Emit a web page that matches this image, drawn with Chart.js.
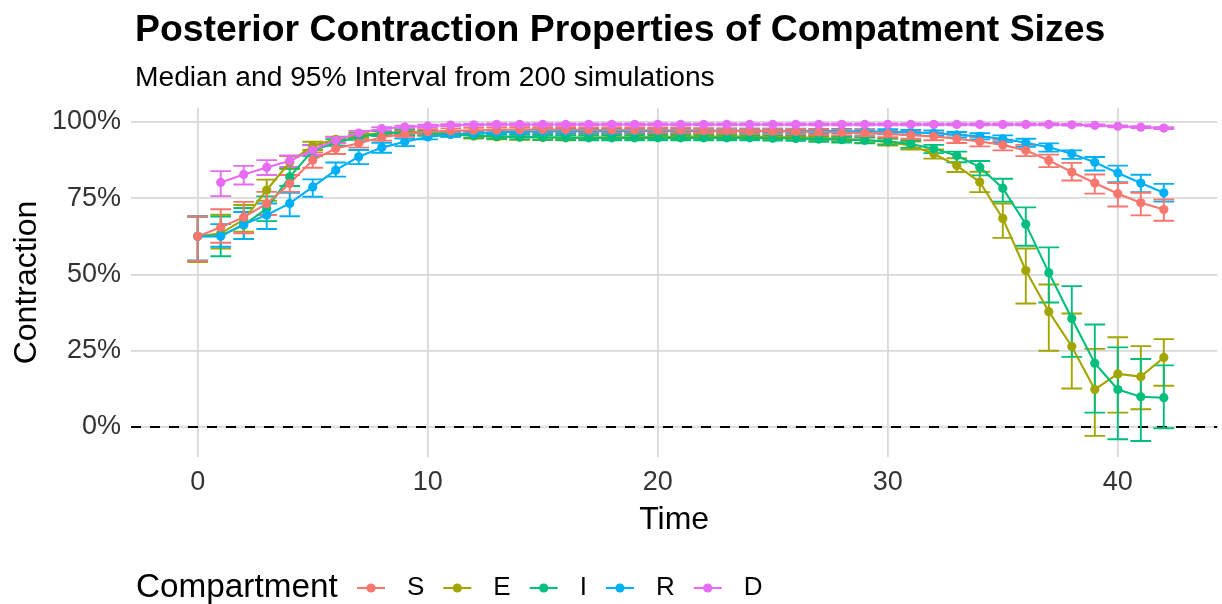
<!DOCTYPE html>
<html>
<head>
<meta charset="utf-8">
<script src="https://cdn.jsdelivr.net/npm/chart.js@4/dist/chart.umd.min.js"></script>
<style>
  html, body { margin: 0; padding: 0; background: #fff; }
</style>
</head>
<body>
<canvas id="chart" width="1222" height="604"></canvas>
<script>
// DATA
const times = [0,1,2,3,4,5,6,7,8,9,10,11,12,13,14,15,16,17,18,19,20,21,22,23,24,25,26,27,28,29,30,31,32,33,34,35,36,37,38,39,40,41,42];

const sMed = [62.5,65.5,68.8,73.2,79.8,87.5,91.3,93.0,95.0,96.1,96.8,97.1,97.3,97.4,97.5,97.5,97.5,97.4,97.4,97.4,97.3,97.3,97.2,97.1,97.0,97.0,96.9,96.7,96.6,96.4,96.1,95.7,95.3,94.5,93.6,92.5,90.7,87.4,83.6,80.0,76.5,73.5,71.3];
const sLo  = [54.5,60.4,63.5,69.5,77.1,85.0,89.5,91.6,93.9,95.2,96.0,96.3,96.5,96.6,96.7,96.7,96.7,96.6,96.6,96.6,96.5,96.5,96.4,96.3,96.2,96.1,96.0,95.8,95.6,95.4,95.0,94.5,94.0,93.1,92.0,90.7,88.8,85.2,80.8,76.5,72.3,69.4,67.6];
const sHi  = [69.0,71.4,73.8,77.1,82.6,90.0,93.1,94.4,96.1,97.0,97.6,97.9,98.1,98.2,98.3,98.3,98.3,98.2,98.2,98.2,98.1,98.1,98.0,97.9,97.8,97.8,97.7,97.6,97.5,97.4,97.1,96.8,96.5,95.8,95.1,94.2,92.5,89.3,86.6,82.8,80.0,76.8,74.6];

const eMed = [62.5,63.5,68.0,77.7,86.8,92.2,94.3,95.7,96.4,96.7,96.5,96.0,95.4,95.1,95.0,94.9,94.8,94.9,95.0,95.0,95.1,95.2,95.2,95.2,95.2,95.1,95.0,94.8,94.5,94.1,93.4,92.3,89.6,85.7,80.3,68.4,51.3,37.8,26.4,12.3,17.4,16.5,22.8];
const eLo  = [54.1,58.5,64.0,74.2,84.6,90.8,93.3,94.9,95.7,96.0,95.8,95.2,94.6,94.3,94.2,94.1,94.0,94.1,94.2,94.2,94.3,94.4,94.4,94.4,94.4,94.3,94.2,93.9,93.6,93.1,92.3,91.0,88.0,83.6,77.0,62.0,40.5,25.0,12.6,-2.9,4.7,5.8,13.5];
const eHi  = [69.0,69.6,72.8,81.1,88.8,93.5,95.2,96.5,97.1,97.4,97.2,96.8,96.2,95.9,95.8,95.7,95.6,95.7,95.8,95.8,95.9,96.0,96.0,96.0,96.0,95.9,95.8,95.7,95.4,95.1,94.5,93.6,91.0,88.1,83.7,73.3,58.5,46.7,37.2,25.6,29.4,26.5,28.8];

const iMed = [62.5,62.8,66.2,71.6,82.0,90.6,93.3,95.1,96.2,96.5,96.3,96.0,95.6,95.3,95.1,95.0,94.9,94.8,94.8,94.8,94.8,94.8,94.8,94.8,94.8,94.7,94.6,94.4,94.2,94.0,93.7,92.8,91.2,89.0,85.2,78.3,66.5,50.6,35.6,20.9,12.3,9.9,9.6];
const iLo  = [54.5,56.0,61.6,67.5,79.0,88.8,92.2,94.2,95.4,95.7,95.5,95.2,94.8,94.5,94.3,94.2,94.1,94.0,94.0,94.0,94.0,94.0,94.0,94.0,94.0,93.9,93.8,93.5,93.3,93.0,92.6,91.5,89.8,86.8,82.5,73.9,59.4,40.8,23.0,4.7,-4.0,-4.6,-0.4];
const iHi  = [69.0,69.0,71.8,75.6,85.0,92.5,94.4,95.9,97.0,97.3,97.1,96.8,96.4,96.1,95.9,95.8,95.7,95.6,95.6,95.6,95.6,95.6,95.6,95.6,95.6,95.5,95.4,95.3,95.1,94.9,94.7,94.0,92.5,90.3,87.2,81.4,72.0,58.9,46.2,33.6,26.1,22.3,20.2];

const rMed = [62.5,62.5,66.5,69.5,73.3,78.7,84.2,88.6,91.6,93.5,95.1,95.9,96.3,96.6,96.8,96.9,97.0,97.0,97.0,97.1,97.1,97.1,97.1,97.1,97.1,97.1,97.1,97.0,97.0,96.9,96.8,96.6,96.3,95.8,95.3,94.5,93.2,91.7,89.6,86.8,83.3,80.0,76.8];
const rLo  = [54.5,59.1,61.6,64.9,69.1,75.5,82.1,86.2,89.9,92.1,94.3,95.2,95.6,95.9,96.1,96.2,96.3,96.3,96.3,96.4,96.4,96.4,96.4,96.4,96.4,96.4,96.4,96.3,96.3,96.2,96.0,95.8,95.4,94.9,94.3,93.4,91.9,90.3,87.9,84.1,80.3,77.0,73.9];
const rHi  = [69.0,66.5,70.5,73.3,76.8,81.2,86.7,90.8,93.2,94.6,96.0,96.6,97.0,97.3,97.5,97.6,97.7,97.7,97.7,97.8,97.8,97.8,97.8,97.8,97.8,97.8,97.8,97.7,97.7,97.6,97.6,97.4,97.2,96.7,96.3,95.6,94.5,93.0,90.7,88.5,85.7,82.7,79.7];

const dMed = [null,80.2,82.8,85.1,87.3,90.8,94.0,96.4,97.8,98.4,98.7,99.0,99.1,99.2,99.2,99.2,99.2,99.2,99.2,99.2,99.2,99.2,99.2,99.2,99.2,99.2,99.2,99.2,99.2,99.2,99.2,99.2,99.2,99.2,99.2,99.2,99.2,99.2,99.1,98.9,98.6,98.3,98.0];
const dLo  = [null,75.7,79.5,82.6,85.3,89.2,93.0,95.7,97.3,98.0,98.3,98.7,98.8,98.9,98.9,98.9,98.9,98.9,98.9,98.9,98.9,98.9,98.9,98.9,98.9,98.9,98.9,98.9,98.9,98.9,98.9,98.9,98.9,98.9,98.9,98.9,98.9,98.9,98.8,98.6,98.3,98.0,97.7];
const dHi  = [null,83.9,85.6,87.5,89.0,92.4,95.1,97.1,98.3,98.8,99.1,99.3,99.4,99.5,99.5,99.5,99.5,99.5,99.5,99.5,99.5,99.5,99.5,99.5,99.5,99.5,99.5,99.5,99.5,99.5,99.5,99.5,99.5,99.5,99.5,99.5,99.5,99.5,99.4,99.2,98.9,98.6,98.3];

const compartments = ["S", "E", "I", "R", "D"];
const xTicks = [0, 10, 20, 30, 40];
const yTicks = [0, 25, 50, 75, 100];

const titleText = "Posterior Contraction Properties of Compatment Sizes";
const subtitleText = "Median and 95% Interval from 200 simulations";
const legendTitle = "Compartment";

// STYLE
const FONT = "'Liberation Sans', Arial, Helvetica, sans-serif";
const colors = ["#F8766D", "#A3A500", "#00BF7D", "#00B0F6", "#E76BF3"];
const GRID = "#d9d9d9";
const TICK = "#333333";
const capHalf = 0.45;
// stacking from bottom to top: E, I, R, S, D
const drawRank = [3, 0, 1, 2, 4];

const series = [
  { name: compartments[0], med: sMed, lo: sLo, hi: sHi, color: colors[0] },
  { name: compartments[1], med: eMed, lo: eLo, hi: eHi, color: colors[1] },
  { name: compartments[2], med: iMed, lo: iLo, hi: iHi, color: colors[2] },
  { name: compartments[3], med: rMed, lo: rLo, hi: rHi, color: colors[3] },
  { name: compartments[4], med: dMed, lo: dLo, hi: dHi, color: colors[4] }
];

const points = s => times.map((t, i) => ({ x: t, y: s.med[i] })).filter(p => p.y != null);

// lines under all points, lower order = drawn later (on top)
const lineSets = series.map((s, k) => ({
  label: s.name + " line", data: points(s), borderColor: s.color, backgroundColor: s.color,
  borderWidth: 2.1, pointRadius: 0, order: 20 - drawRank[k]
}));
const pointSets = series.map((s, k) => ({
  label: s.name, data: points(s), showLine: false, borderColor: s.color, backgroundColor: s.color,
  pointRadius: 4.6, pointBorderWidth: 0, order: 10 - drawRank[k]
}));

// zero line + error bars, drawn under the lines
const errorBars = {
  id: "errorBars",
  beforeDatasetsDraw(chart) {
    const { ctx, chartArea: a, scales: { x, y } } = chart;
    ctx.save();
    ctx.beginPath();
    ctx.rect(a.left, a.top, a.right - a.left, a.bottom - a.top);
    ctx.clip();

    const y0 = y.getPixelForValue(0);
    ctx.strokeStyle = "#000";
    ctx.lineWidth = 2;
    ctx.setLineDash([10, 9]);
    ctx.beginPath(); ctx.moveTo(a.left, y0); ctx.lineTo(a.right, y0); ctx.stroke();
    ctx.setLineDash([]);

    ctx.lineWidth = 1.9;
    const byRank = series.map((s, k) => k).sort((p, q) => drawRank[p] - drawRank[q]);
    byRank.forEach(k => {
      const s = series[k];
      ctx.strokeStyle = s.color;
      times.forEach((t, i) => {
        if (s.lo[i] == null) return;
        const px = x.getPixelForValue(t);
        const x0 = x.getPixelForValue(t - capHalf), x1 = x.getPixelForValue(t + capHalf);
        const yl = y.getPixelForValue(s.lo[i]), yh = y.getPixelForValue(s.hi[i]);
        ctx.beginPath();
        ctx.moveTo(px, yl); ctx.lineTo(px, yh);
        ctx.moveTo(x0, yl); ctx.lineTo(x1, yl);
        ctx.moveTo(x0, yh); ctx.lineTo(x1, yh);
        ctx.stroke();
      });
    });
    ctx.restore();
  }
};

// title, subtitle and the inline legend at the bottom
const texts = {
  id: "texts",
  afterDraw(chart) {
    const ctx = chart.ctx;
    ctx.save();
    ctx.fillStyle = "#000";
    ctx.textAlign = "left";
    ctx.textBaseline = "alphabetic";
    ctx.font = `bold 37.4px ${FONT}`;
    ctx.fillText(titleText, 135, 41);
    ctx.font = `28.2px ${FONT}`;
    ctx.fillText(subtitleText, 135, 86);

    const ly = 588;
    ctx.textBaseline = "middle";
    ctx.font = `33.3px ${FONT}`;
    ctx.fillText(legendTitle, 136, ly);
    let cx = 371;
    ctx.font = `26px ${FONT}`;
    series.forEach(s => {
      ctx.strokeStyle = s.color;
      ctx.fillStyle = s.color;
      ctx.lineWidth = 2.1;
      ctx.beginPath(); ctx.moveTo(cx - 14, ly); ctx.lineTo(cx + 14, ly); ctx.stroke();
      ctx.beginPath(); ctx.arc(cx, ly, 4.6, 0, Math.PI * 2); ctx.fill();
      ctx.fillStyle = "#000";
      ctx.fillText(s.name, cx + 36, ly);
      cx += 36 + ctx.measureText(s.name).width + 33;
    });
    ctx.restore();
  }
};

new Chart(document.getElementById("chart"), {
  type: "line",
  data: { datasets: [...lineSets, ...pointSets] },
  options: {
    responsive: false,
    animation: false,
    events: [],
    layout: { padding: { top: 108, left: 0, right: 0, bottom: 65 } },
    plugins: { legend: { display: false }, tooltip: { enabled: false } },
    scales: {
      x: {
        type: "linear", min: -2.9, max: 44.33,
        afterBuildTicks: sc => { sc.ticks = xTicks.map(v => ({ value: v })); },
        afterFit: sc => { sc.height = 82; },
        grid: { color: GRID, lineWidth: 1.8, drawTicks: false },
        border: { display: false },
        ticks: { font: { family: FONT, size: 27 }, color: TICK, padding: 9, maxRotation: 0, autoSkip: false },
        title: { display: true, text: "Time", color: "#000", font: { family: FONT, size: 32 }, padding: { top: 0, bottom: 0 } }
      },
      y: {
        type: "linear", min: -9.84, max: 104.59,
        afterBuildTicks: sc => { sc.ticks = yTicks.map(v => ({ value: v })); },
        afterFit: sc => { sc.width = 131; },
        grid: { color: GRID, lineWidth: 1.8, drawTicks: false },
        border: { display: false },
        ticks: { font: { family: FONT, size: 27 }, color: TICK, padding: 10, callback: v => v + "%" },
        title: { display: true, text: "Contraction", color: "#000", font: { family: FONT, size: 32 }, padding: { top: 8, bottom: 0 } }
      }
    }
  },
  plugins: [errorBars, texts]
});
</script>
</body>
</html>
